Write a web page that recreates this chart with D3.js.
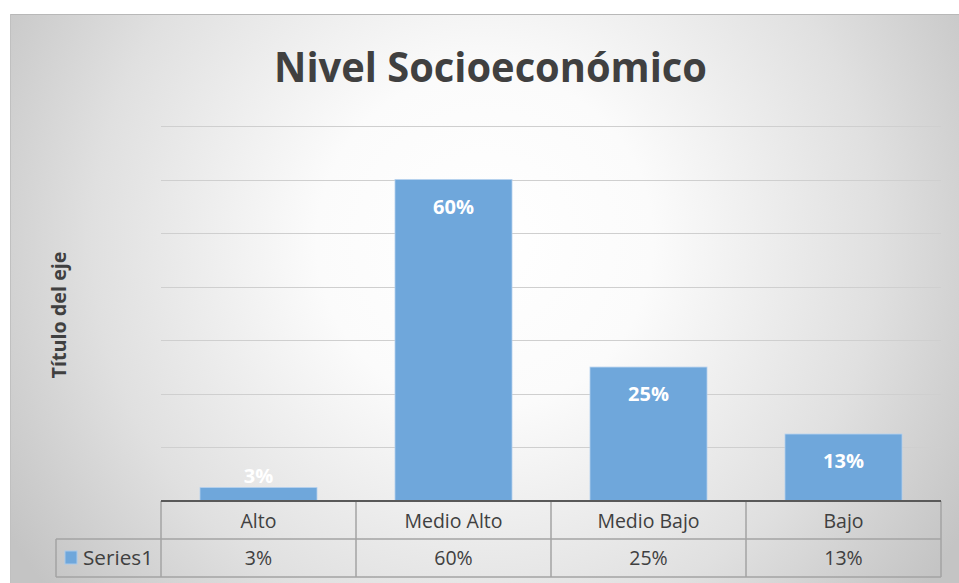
<!DOCTYPE html>
<html>
<head>
<meta charset="utf-8">
<script src="https://cdn.jsdelivr.net/npm/d3@7/dist/d3.min.js"></script>
<style>
  html, body { margin: 0; padding: 0; background: #ffffff; }
  svg { display: block; }
</style>
</head>
<body>
<svg id="chart" width="959" height="583"></svg>
<script>
const title = "Nivel Socioeconómico";
const axisTitle = "Título del eje";
const seriesName = "Series1";
const categories = ["Alto", "Medio Alto", "Medio Bajo", "Bajo"];
const values = [0.025, 0.60, 0.25, 0.125];
const valueLabels = ["3%", "60%", "25%", "13%"];
const gridTicks = [0.1, 0.2, 0.3, 0.4, 0.5, 0.6, 0.7];

const svg = d3.select("#chart");
const font = "'Open Sans', 'DejaVu Sans', sans-serif";
const textColor = "#404040";

// background gradient
const defs = svg.append("defs");
const grad = defs.append("radialGradient")
  .attr("id", "bg").attr("gradientUnits", "userSpaceOnUse")
  .attr("cx", 485).attr("cy", 240).attr("r", 560)
  .attr("fx", 485).attr("fy", 240);
grad.append("stop").attr("offset", "0").attr("stop-color", "#ffffff");
grad.append("stop").attr("offset", "0.3").attr("stop-color", "#fbfbfb");
grad.append("stop").attr("offset", "0.7").attr("stop-color", "#e0e0e0");
grad.append("stop").attr("offset", "1").attr("stop-color", "#c4c4c4");

svg.append("rect").attr("x", 10).attr("y", 14).attr("width", 949).attr("height", 569)
  .attr("fill", "url(#bg)");
svg.append("line").attr("x1", 10).attr("x2", 959).attr("y1", 14.5).attr("y2", 14.5)
  .attr("stroke", "#b8b8b8").attr("stroke-width", 1);
svg.append("line").attr("x1", 10.5).attr("x2", 10.5).attr("y1", 14).attr("y2", 583)
  .attr("stroke", "#c0c0c0").attr("stroke-width", 1);

// scales
const plotLeft = 161, plotRight = 941, plotTop = 126, plotBottom = 501;
const x = d3.scaleBand().domain(categories).range([plotLeft, plotRight])
  .paddingInner(0.4).paddingOuter(0.2);
const col = d3.scaleBand().domain(categories).range([plotLeft, plotRight]).padding(0);
const y = d3.scaleLinear().domain([0, 0.7]).range([plotBottom, plotTop]);

// gridlines
svg.append("g").selectAll("line").data(gridTicks).join("line")
  .attr("x1", plotLeft).attr("x2", plotRight)
  .attr("y1", d => Math.round(y(d)) + 0.5).attr("y2", d => Math.round(y(d)) + 0.5)
  .attr("stroke", "#cfcfcf").attr("stroke-width", 1.2);

// bars
svg.append("g").selectAll("rect").data(values).join("rect")
  .attr("x", (d, i) => x(categories[i]))
  .attr("y", d => y(d))
  .attr("width", x.bandwidth())
  .attr("height", d => y(0) - y(d))
  .attr("fill", "#6fa7db")
  .attr("stroke", "#b3d0ee").attr("stroke-width", 0.8);

// data labels
svg.append("g").selectAll("text").data(values).join("text")
  .attr("x", (d, i) => x(categories[i]) + x.bandwidth() / 2)
  .attr("y", d => (y(0) - y(d) > 40) ? y(d) + 34 : y(d) - 5)
  .attr("text-anchor", "middle")
  .attr("font-family", font).attr("font-weight", "bold").attr("font-size", 20)
  .attr("fill", "#ffffff")
  .text((d, i) => valueLabels[i]);

// data table
const rowTop = 501, rowMid = 539, rowBot = 577, legendLeft = 56;
const tbl = svg.append("g").attr("stroke", "#a3a3a3").attr("stroke-width", 1.5).attr("fill", "none");
const vx = categories.map(c => col(c)).concat([plotRight]);
tbl.selectAll("line.v").data(vx).join("line").attr("class", "v")
  .attr("x1", d => d).attr("x2", d => d).attr("y1", rowTop).attr("y2", rowBot);
tbl.append("line").attr("x1", legendLeft).attr("x2", legendLeft).attr("y1", rowMid).attr("y2", rowBot);
tbl.append("line").attr("x1", legendLeft).attr("x2", plotRight).attr("y1", rowMid).attr("y2", rowMid);
tbl.append("line").attr("x1", legendLeft).attr("x2", plotRight).attr("y1", rowBot).attr("y2", rowBot);
// axis baseline
svg.append("line").attr("x1", plotLeft).attr("x2", plotRight)
  .attr("y1", plotBottom).attr("y2", plotBottom)
  .attr("stroke", "#595959").attr("stroke-width", 2);

// header labels
svg.append("g").selectAll("text").data(categories).join("text")
  .attr("x", d => col(d) + col.bandwidth() / 2)
  .attr("y", 528)
  .attr("text-anchor", "middle")
  .attr("font-family", font).attr("font-size", 19.5).attr("fill", textColor)
  .text(d => d);

// value row
svg.append("g").selectAll("text").data(valueLabels).join("text")
  .attr("x", (d, i) => col(categories[i]) + col.bandwidth() / 2)
  .attr("y", 565)
  .attr("text-anchor", "middle")
  .attr("font-family", font).attr("font-size", 19.5).attr("fill", textColor)
  .text(d => d);

// legend key
svg.append("rect").attr("x", 65).attr("y", 551).attr("width", 12).attr("height", 13)
  .attr("fill", "#6fa7db").attr("stroke", "#a9c9ea").attr("stroke-width", 1);
svg.append("text").attr("x", 83).attr("y", 565)
  .attr("font-family", font).attr("font-size", 19.5).attr("fill", textColor)
  .attr("textLength", 70).attr("lengthAdjust", "spacingAndGlyphs")
  .text(seriesName);

// title
svg.append("text").attr("x", 490.5).attr("y", 82)
  .attr("text-anchor", "middle")
  .attr("font-family", font).attr("font-weight", "bold").attr("font-size", 42)
  .attr("fill", textColor)
  .attr("textLength", 433).attr("lengthAdjust", "spacingAndGlyphs")
  .text(title);

// axis title
svg.append("text")
  .attr("transform", "translate(66,315) rotate(-90)")
  .attr("text-anchor", "middle")
  .attr("font-family", font).attr("font-weight", "bold").attr("font-size", 20)
  .attr("fill", textColor)
  .attr("textLength", 127).attr("lengthAdjust", "spacingAndGlyphs")
  .text(axisTitle);
</script>
</body>
</html>
